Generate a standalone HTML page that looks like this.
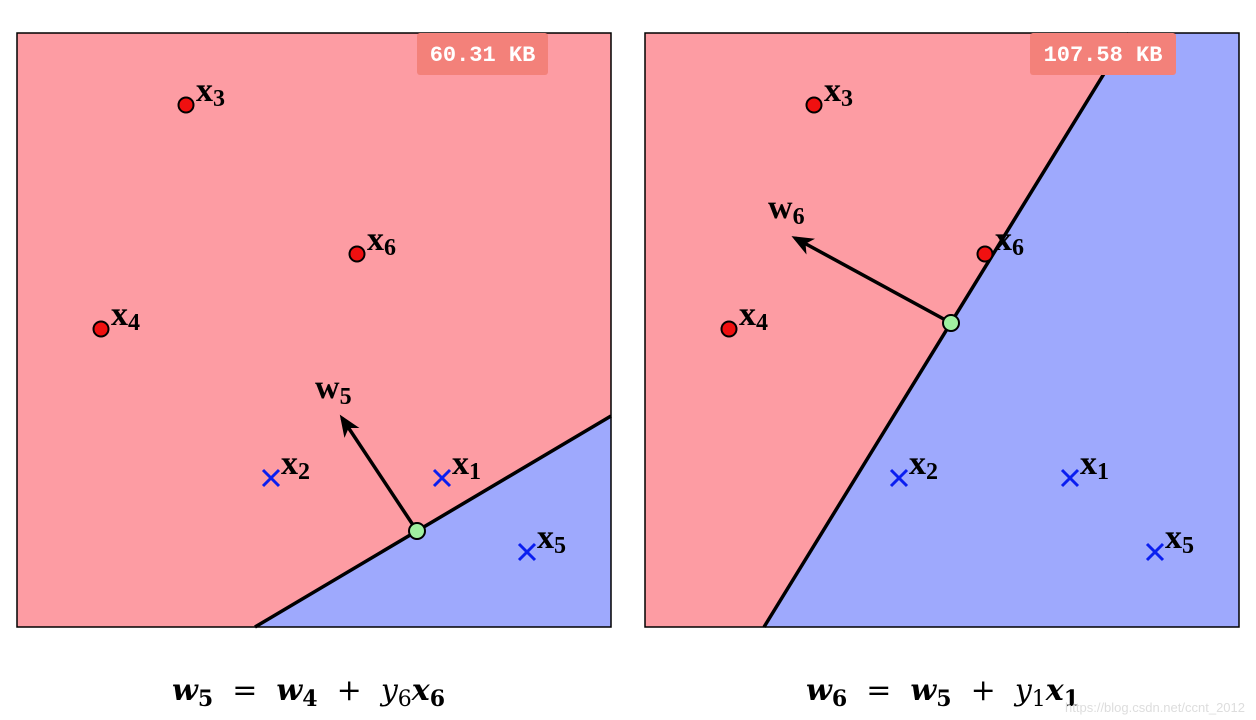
<!DOCTYPE html>
<html><head><meta charset="utf-8"><style>
body{margin:0;background:#fff;width:1256px;height:720px;overflow:hidden}
svg{display:block}
.lab{font-family:"Liberation Serif",serif;font-weight:bold;font-size:34px;fill:#000}
.sub{font-size:24px}
.badge{font-family:"Liberation Mono",monospace;font-weight:bold;font-size:22px;fill:#fff}
.eq{font-family:"DejaVu Serif","Liberation Serif",serif;font-size:30px;fill:#000}
</style></head><body>
<svg id="chart" width="1256" height="720">
<defs><marker id="ah" markerWidth="22" markerHeight="18" refX="18" refY="9" orient="auto" markerUnits="userSpaceOnUse" viewBox="0 0 22 18"><path d="M0,0 L22,9 L0,18 L6,9z" fill="#000"/></marker></defs>
<g id="panels"></g>
<text class="eq" x="172" y="700"><tspan font-weight="bold" font-style="italic">w</tspan><tspan font-weight="bold" font-size="22" dy="6">5</tspan><tspan dy="-6" xml:space="preserve">  =  </tspan><tspan font-weight="bold" font-style="italic">w</tspan><tspan font-weight="bold" font-size="22" dy="6">4</tspan><tspan dy="-6" xml:space="preserve">  +  </tspan><tspan font-style="italic">y</tspan><tspan font-size="22" dy="6">6</tspan><tspan dy="-6" font-weight="bold" font-style="italic">x</tspan><tspan font-weight="bold" font-size="22" dy="6">6</tspan></text>
<text class="eq" x="806" y="700"><tspan font-weight="bold" font-style="italic">w</tspan><tspan font-weight="bold" font-size="22" dy="6">6</tspan><tspan dy="-6" xml:space="preserve">  =  </tspan><tspan font-weight="bold" font-style="italic">w</tspan><tspan font-weight="bold" font-size="22" dy="6">5</tspan><tspan dy="-6" xml:space="preserve">  +  </tspan><tspan font-style="italic">y</tspan><tspan font-size="22" dy="6">1</tspan><tspan dy="-6" font-weight="bold" font-style="italic">x</tspan><tspan font-weight="bold" font-size="22" dy="6">1</tspan></text>
<text x="1245" y="712" text-anchor="end" font-family="Liberation Sans,sans-serif" font-size="13" fill="#ddd">https://blog.csdn.net/ccnt_2012</text>
</svg>
<script>
const pointNames=["1","2","3","4","5","6"];
const pointX=[425,254,169,84,510,340];
const pointY=[445,445,72,296,519,221];
const pointClass=["pos","pos","neg","neg","pos","neg"];
const panelOffsets=[17,645];
const badges=["60.31 KB","107.58 KB"];
const lineStartX=[238,119];const lineStartY=[594,594];
const lineEndX=[594,484];const lineEndY=[383,0];
const pivotX=[400,306];const pivotY=[498,290];
const arrowX=[325,150];const arrowY=[385,205];
const weightNames=["5","6"];
const NS="http://www.w3.org/2000/svg";
const root=document.getElementById('panels');
function mk(t,a,p){const e=document.createElementNS(NS,t);for(const k in a)e.setAttribute(k,a[k]);(p||root).appendChild(e);return e;}
const sx=(p,v)=>panelOffsets[p]+v, sy=v=>33+v;
for(let p=0;p<2;p++){
 const g=mk('g',{});
 
 
 const bg=mk('rect',{x:sx(p,0),y:sy(0),width:594,height:594,fill:'#fd9ca3'},g);
 
 
 let poly;
 if(p===0) poly=[[lineStartX[p],lineStartY[p]],[lineEndX[p],lineEndY[p]],[594,594]];
 else poly=[[lineStartX[p],lineStartY[p]],[lineEndX[p],lineEndY[p]],[594,0],[594,594]];
 const pr=mk('polygon',{points:poly.map(q=>sx(p,q[0])+','+sy(q[1])).join(' '),fill:'#9ea9fd'},g);
 
 
 const ln=mk('line',{x1:sx(p,lineStartX[p]),y1:sy(lineStartY[p]),x2:sx(p,lineEndX[p]),y2:sy(lineEndY[p]),stroke:'#000','stroke-width':3.5},g);
 
 
 const fr=mk('rect',{x:sx(p,0),y:sy(0),width:594,height:594,fill:'none',stroke:'#000','stroke-width':1.5},g);
 
 
 const bw=p===0?131:146, bx=p===0?417:1030;
 const br=mk('rect',{x:bx,y:33,width:bw,height:42,rx:3,fill:'#f3817a'},g);
 
 
 const bt=mk('text',{x:bx+bw/2,y:61,class:'badge','text-anchor':'middle'},g);
 bt.textContent=badges[p];
 
 
 for(let i=0;i<pointNames.length;i++){
  const cx=sx(p,pointX[i]),cy=sy(pointY[i]);
  let m;
  if(pointClass[i]==='neg') m=mk('circle',{cx,cy,r:7.5,fill:'#f01010',stroke:'#000','stroke-width':2},g);
  else {m=mk('path',{d:`M${cx-8},${cy-8}L${cx+8},${cy+8}M${cx-8},${cy+8}L${cx+8},${cy-8}`,stroke:'#0a1ef0','stroke-width':3},g);}
  
  
  const t=mk('text',{x:cx+10,y:cy-4,class:'lab'},g);
  t.innerHTML='x<tspan class="sub" dy="5">'+pointNames[i]+'</tspan>';
  
  
 }
 const ar=mk('line',{x1:sx(p,pivotX[p]),y1:sy(pivotY[p]),x2:sx(p,arrowX[p]),y2:sy(arrowY[p]),stroke:'#000','stroke-width':3.5,'marker-end':'url(#ah)'},g);
 
 
 const wl=mk('text',{x:sx(p,arrowX[p])-27,y:sy(arrowY[p])-20,class:'lab'},g);
 wl.innerHTML='w<tspan class="sub" dy="6">'+weightNames[p]+'</tspan>';
 
 
 const pv=mk('circle',{cx:sx(p,pivotX[p]),cy:sy(pivotY[p]),r:8,fill:'#a0f0a0',stroke:'#000','stroke-width':2},g);
 
 
}
</script>
</body></html>
